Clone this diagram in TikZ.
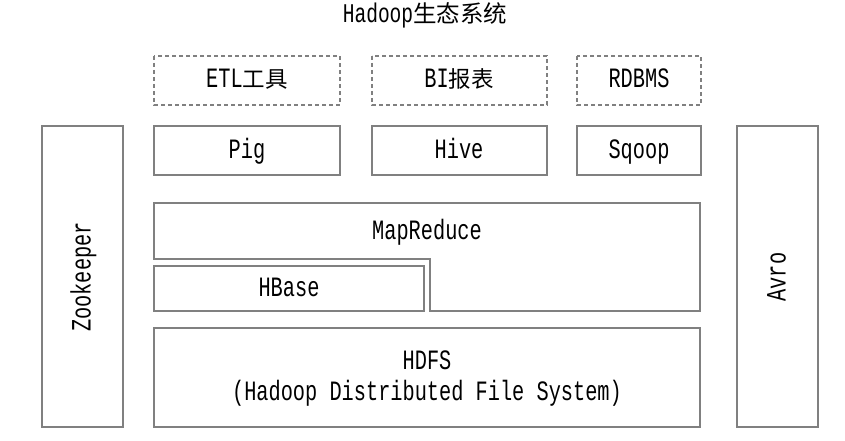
\documentclass[tikz,border=0pt]{standalone}
\usepackage{fontspec}
\setmainfont[FakeStretch=0.725]{Liberation Mono}
\newfontfamily\cjk{Noto Sans CJK SC}
\newcommand{\cjt}[1]{{\cjk\fontsize{22.5}{26}\selectfont #1}}
\begin{document}
\begin{tikzpicture}[x=1pt,y=-1pt,
  box/.style={draw=black!50, line width=1.3pt},
  dbox/.style={draw=black!50, line width=1.3pt, dash pattern=on 4pt off 3pt},
  lbl/.style={font=\fontsize{28}{31}\selectfont, text=black, inner sep=0pt, align=center, text height=18pt, text depth=5pt}]
\useasboundingbox (0,0) rectangle (845,441);
% title
\node[lbl, font=\fontsize{27}{30}\selectfont] (title) at (425,16) {Hadoop{\cjk\fontsize{23.5}{26}\selectfont 生态系统}};
% dashed top row
\draw[dbox] (154,56) rectangle (340,105);
\node[lbl] (etl) at (247,81) {ETL\cjt{工具}};
\draw[dbox] (372,56) rectangle (547,105);
\node[lbl] (bi) at (459,81) {BI\cjt{报表}};
\draw[dbox] (577,56) rectangle (701,105);
\node[lbl] (rdbms) at (639,81) {RDBMS};
% second row
\draw[box] (154,126) rectangle (340,175);
\node[lbl] (pig) at (247,152) {Pig};
\draw[box] (372,126) rectangle (547,175);
\node[lbl] (hive) at (459,152) {Hive};
\draw[box] (577,126) rectangle (701,175);
\node[lbl] (sqoop) at (639,152) {Sqoop};
% MapReduce notched
\draw[box] (154,203) -- (700,203) -- (700,311) -- (430,311) -- (430,259) -- (154,259) -- cycle;
\node[lbl] (mr) at (427,233) {MapReduce};
% HBase
\draw[box] (154,266) rectangle (424,311);
\node[lbl] (hbase) at (289,290) {HBase};
% HDFS
\draw[box] (154,328) rectangle (700,427);
\node[lbl] (hdfs) at (427,363) {HDFS};
\node[lbl] (hdfsfull) at (427,394) {(Hadoop Distributed File System)};
% side boxes
\draw[box] (42,126) rectangle (123,427);
\node[lbl, rotate=90] (zk) at (84,277) {Zookeeper};
\draw[box] (737,126) rectangle (818,427);
\node[lbl, rotate=90] (avro) at (779,277) {Avro};
\end{tikzpicture}
\end{document}
